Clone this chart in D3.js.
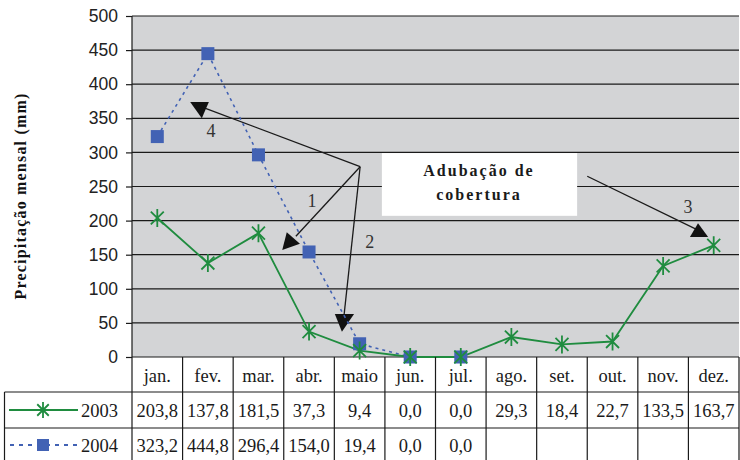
<!DOCTYPE html>
<html>
<head>
<meta charset="utf-8">
<script src="https://cdn.jsdelivr.net/npm/d3@7"></script>
<style>
  html, body { margin: 0; padding: 0; background: #fff; }
  svg { display: block; }
</style>
</head>
<body>
<svg id="chart" width="740" height="460"></svg>
<script>
// Monthly rainfall (mm)
const months = ["jan.", "fev.", "mar.", "abr.", "maio", "jun.", "jul.", "ago.", "set.", "out.", "nov.", "dez."];
const rain2003 = [203.8, 137.8, 181.5, 37.3, 9.4, 0.0, 0.0, 29.3, 18.4, 22.7, 133.5, 163.7];
const rain2004 = [323.2, 444.8, 296.4, 154.0, 19.4, 0.0, 0.0];
const yTicks = [0, 50, 100, 150, 200, 250, 300, 350, 400, 450, 500];
const seriesNames = ["2003", "2004"];

// Fertiliser-application callouts, in (month index, mm) units
const calloutOrigin = [4.01, 279];
const callouts = [
  { label: "4", labelAt: [1.06, 323], start: calloutOrigin, end: [0.94, 365], head: [[0.65, 374], [1.02, 374], [0.88, 350]] },
  { label: "1", labelAt: [3.06, 220], start: calloutOrigin, end: [2.74, 177], head: [[2.47, 157], [2.56, 183], [2.82, 166]] },
  { label: "2", labelAt: [4.20, 160], start: calloutOrigin, end: [3.69, 60], head: [[3.51, 63], [3.89, 63], [3.65, 37]] },
  { label: "3", labelAt: [10.49, 211], start: [8.50, 265], end: [10.69, 186], head: [[10.53, 176], [10.89, 176], [10.69, 196]] }
];
const noteBox = { x0: 4.44, x1: 8.30, y0: 299, y1: 207 };
const noteLines = [{ text: "Adubação de", at: [6.36, 265] }, { text: "cobertura", at: [6.36, 230] }];

const svg = d3.select("#chart");
const L = 132, R = 739, T = 16, B = 357;
const rowH = [357, 392, 428, 466];
const legendLeft = 4.5;

const green = "#1f8c3f";
const blue = "#4262b4";
const ink = "#1a1a1a";

const x = d3.scaleBand().domain(months).range([L, R]).padding(0);
const xi = d3.scaleLinear().domain([-0.5, months.length - 0.5]).range([L, R]);
const y = d3.scaleLinear().domain([0, 500]).range([B, T]);
const cx = m => x(m) + x.bandwidth() / 2;

// Plot background
svg.append("rect").attr("x", L).attr("y", T).attr("width", R - L).attr("height", B - T).attr("fill", "#d3d4d6");

// Gridlines
svg.append("g").selectAll("line").data(yTicks).join("line")
  .attr("x1", L).attr("x2", R)
  .attr("y1", d => y(d)).attr("y2", d => y(d))
  .attr("stroke", ink).attr("stroke-width", 1.2);

// Y axis
const yAxis = d3.axisLeft(y).tickValues(yTicks).tickSize(6).tickPadding(8);
const gy = svg.append("g").attr("transform", `translate(${L},0)`).call(yAxis);
gy.select(".domain").attr("stroke", ink).attr("stroke-width", 1.2).attr("d", `M-0,${T}V${B}`);
gy.selectAll(".tick line").attr("stroke", ink).attr("stroke-width", 1.2);
gy.selectAll(".tick text").attr("fill", "#222").style("font-family", "'Liberation Sans', Arial, sans-serif").style("font-size", "17.5px");

// Y title
svg.append("text")
  .attr("transform", `translate(26,196) rotate(-90)`)
  .attr("text-anchor", "middle")
  .style("font-family", "'Liberation Serif', 'Times New Roman', serif")
  .style("font-weight", "bold").style("font-size", "16px").style("letter-spacing", "1.2px")
  .attr("fill", "#111")
  .text("Precipitação mensal (mm)");

// Callout box
svg.append("rect")
  .attr("x", xi(noteBox.x0)).attr("y", y(noteBox.y0))
  .attr("width", xi(noteBox.x1) - xi(noteBox.x0)).attr("height", y(noteBox.y1) - y(noteBox.y0))
  .attr("fill", "#fff");
svg.append("g").selectAll("text").data(noteLines).join("text")
  .attr("x", d => xi(d.at[0])).attr("y", d => y(d.at[1]))
  .attr("text-anchor", "middle")
  .style("font-family", "'Liberation Serif', 'Times New Roman', serif")
  .style("font-weight", "bold").style("font-size", "16px").style("letter-spacing", "2px")
  .attr("fill", "#1a1a1a")
  .text(d => d.text);

// Callout arrows
const cg = svg.append("g");
cg.selectAll("line").data(callouts).join("line")
  .attr("x1", d => xi(d.start[0])).attr("y1", d => y(d.start[1]))
  .attr("x2", d => xi(d.end[0])).attr("y2", d => y(d.end[1]))
  .attr("stroke", ink).attr("stroke-width", 1.3);
cg.selectAll("polygon").data(callouts).join("polygon")
  .attr("points", d => d.head.map(p => [xi(p[0]), y(p[1])].join(",")).join(" "))
  .attr("fill", "#111");
cg.selectAll("text").data(callouts).join("text")
  .attr("x", d => xi(d.labelAt[0])).attr("y", d => y(d.labelAt[1]))
  .attr("text-anchor", "middle")
  .style("font-family", "'Liberation Serif', 'Times New Roman', serif").style("font-size", "18px")
  .attr("fill", "#333")
  .text(d => d.label);

// Star marker path (asterisk: vertical bar + X)
function starPath(s) {
  const d = s * 0.72;
  return `M0,${-s}V${s}M${-d},${-d}L${d},${d}M${-d},${d}L${d},${-d}`;
}

// 2004 series — dotted line with squares
const pts2004 = rain2004.map((v, i) => [cx(months[i]), y(v)]);
svg.append("path").attr("d", d3.line()(pts2004))
  .attr("fill", "none").attr("stroke", blue).attr("stroke-width", 1.6).attr("stroke-dasharray", "3,4");

// 2003 series — solid line with stars
const pts2003 = rain2003.map((v, i) => [cx(months[i]), y(v)]);
svg.append("path").attr("d", d3.line()(pts2003))
  .attr("fill", "none").attr("stroke", green).attr("stroke-width", 1.8);

svg.append("g").selectAll("rect").data(pts2004).join("rect")
  .attr("x", d => d[0] - 6.5).attr("y", d => d[1] - 6.5).attr("width", 13).attr("height", 13)
  .attr("fill", blue);

svg.append("g").selectAll("path").data(pts2003).join("path")
  .attr("transform", d => `translate(${d[0]},${d[1]})`)
  .attr("d", starPath(9)).attr("stroke", green).attr("stroke-width", 1.8).attr("fill", "none");

// Data table
const tg = svg.append("g");
const serif = "'Liberation Serif', 'Times New Roman', serif";
// horizontal rules
tg.append("line").attr("x1", legendLeft).attr("x2", R).attr("y1", rowH[1]).attr("y2", rowH[1]).attr("stroke", ink).attr("stroke-width", 1.2);
tg.append("line").attr("x1", legendLeft).attr("x2", R).attr("y1", rowH[2]).attr("y2", rowH[2]).attr("stroke", ink).attr("stroke-width", 1.2);
// vertical rules
const colEdges = months.map(m => x(m)).concat([R]);
tg.selectAll("line.v").data(colEdges).join("line").attr("class", "v")
  .attr("x1", d => d).attr("x2", d => d).attr("y1", rowH[0]).attr("y2", rowH[3])
  .attr("stroke", ink).attr("stroke-width", 1.2);
tg.append("line").attr("x1", legendLeft).attr("x2", legendLeft).attr("y1", rowH[1]).attr("y2", rowH[3]).attr("stroke", ink).attr("stroke-width", 1.2);

const fmt = v => v.toFixed(1).replace(".", ",");
tg.selectAll("text.h").data(months).join("text").attr("class", "h")
  .attr("x", m => cx(m)).attr("y", 382).attr("text-anchor", "middle")
  .style("font-family", serif).style("font-size", "18.5px").attr("fill", "#1a1a1a").text(m => m);
tg.selectAll("text.r1").data(rain2003).join("text").attr("class", "r1")
  .attr("x", (v, i) => cx(months[i])).attr("y", 417).attr("text-anchor", "middle")
  .style("font-family", serif).style("font-size", "18.5px").attr("fill", "#1a1a1a").text(fmt);
tg.selectAll("text.r2").data(rain2004).join("text").attr("class", "r2")
  .attr("x", (v, i) => cx(months[i])).attr("y", 452).attr("text-anchor", "middle")
  .style("font-family", serif).style("font-size", "18.5px").attr("fill", "#1a1a1a").text(fmt);

// Legend keys in table rows
const ly1 = (rowH[1] + rowH[2]) / 2, ly2 = (rowH[2] + rowH[3]) / 2 - 2;
tg.append("line").attr("x1", 9).attr("x2", 78).attr("y1", ly1).attr("y2", ly1).attr("stroke", green).attr("stroke-width", 1.8);
tg.append("path").attr("transform", `translate(43,${ly1})`).attr("d", starPath(8)).attr("stroke", green).attr("stroke-width", 1.8);
tg.append("line").attr("x1", 10).attr("x2", 78).attr("y1", ly2).attr("y2", ly2).attr("stroke", blue).attr("stroke-width", 1.8).attr("stroke-dasharray", "4,5");
tg.append("rect").attr("x", 37).attr("y", ly2 - 6).attr("width", 12).attr("height", 12).attr("fill", blue);
tg.selectAll("text.lg").data(seriesNames).join("text").attr("class", "lg")
  .attr("x", 81).attr("y", (d, i) => i === 0 ? 417 : 452)
  .style("font-family", serif).style("font-size", "18.5px").attr("fill", "#1a1a1a").text(d => d);
</script>
</body>
</html>
